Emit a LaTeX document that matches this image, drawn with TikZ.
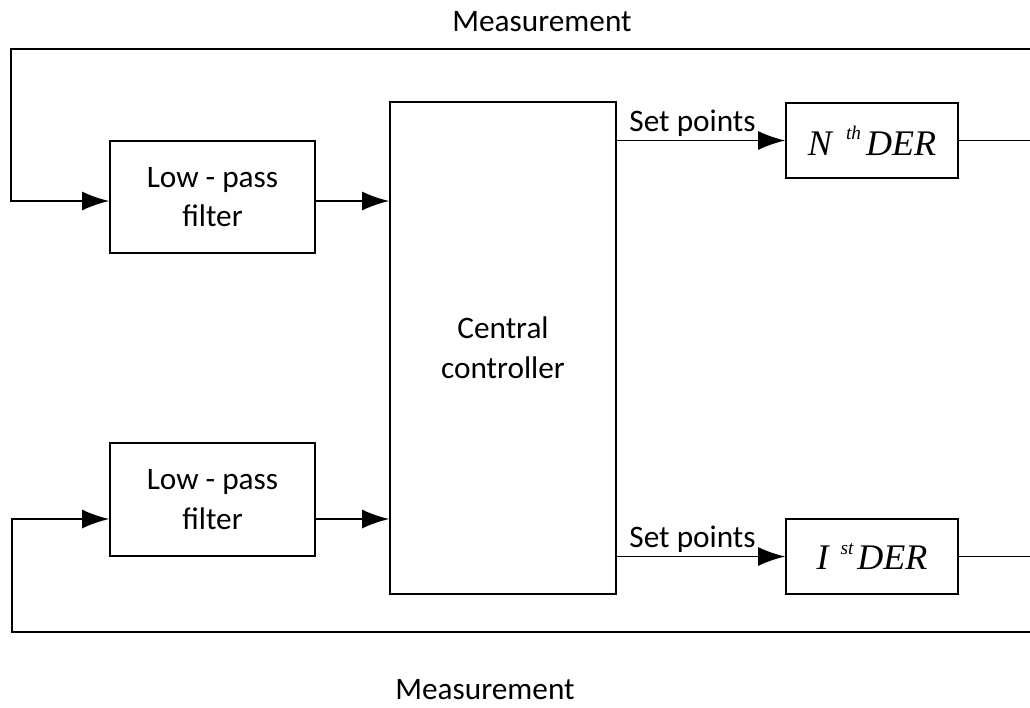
\documentclass[tikz,border=0pt]{standalone}
\usepackage{fontspec}
\setmainfont{Carlito}
\newfontfamily\derfont{Liberation Serif}
\usetikzlibrary{arrows.meta,positioning}
\newcommand{\dersup}[1]{\raisebox{9pt}{\fontsize{11}{11}\selectfont #1}}
\tikzset{
	blk/.style={draw, line width=1pt, align=center, inner sep=0pt},
	derblk/.style={blk, minimum width=3.44cm, minimum height=1.5cm, font=\derfont\itshape\fontsize{20.5}{22}\selectfont},
	arr/.style={-{Latex[length=5.4mm,width=3.8mm]}, line width=1pt},
	wire/.style={line width=1pt}
}
\begin{document}
	\begin{tikzpicture}[x=0.02cm, y=-0.02cm, font=\fontsize{17.8}{22.5}\selectfont]
		\useasboundingbox (0,0) rectangle (1030,707);
		\node[blk, minimum width=4.52cm, minimum height=9.84cm] (ctrl) at (503,348) {Central\\controller};
		\node[blk, minimum width=4.1cm, minimum height=2.24cm] (lpf1) at (212.5,197) {Low - pass\\filter};
		\node[blk, minimum width=4.1cm, minimum height=2.26cm] (lpf2) at (212.5,499.5) {Low - pass\\filter};
		\node[derblk] (derN) at (872,140.5) {N\hspace{0.28cm}\dersup{th}\hspace{0.1cm}DER};
		\node[derblk] (derI) at (872,556.5) {I\hspace{0.24cm}\dersup{st}\hspace{0.08cm}DER};
		\node (mtop) at (542,22) {Measurement};
		\node (mbot) at (485,690) {Measurement};
		\coordinate (tl) at (11,49);
		\coordinate (tr) at (1031,49);
		\coordinate (bl) at (12,632);
		\coordinate (br) at (1031,632);
		\coordinate (in1) at (0,201);
		\coordinate (in2) at (0,519);
		\draw [arr] (tr) -- (tl) |- (lpf1.west |- in1);
		\draw [arr] (lpf1.east |- in1) -- (ctrl.west |- in1);
		\draw [arr] (br) -- (bl) |- (lpf2.west |- in2);
		\draw [arr] (lpf2.east |- in2) -- (ctrl.west |- in2);
		\draw [arr] (ctrl.east |- derN) -- node[pos=0.45, above, inner sep=1.5pt] {Set points} (derN);
		\draw [arr] (ctrl.east |- derI) -- node[pos=0.45, above, inner sep=1.5pt] {Set points} (derI);
		\draw [wire] (derN.east) -- (derN.east -| tr);
		\draw [wire] (derI.east) -- (derI.east -| br);
	\end{tikzpicture}
\end{document}
